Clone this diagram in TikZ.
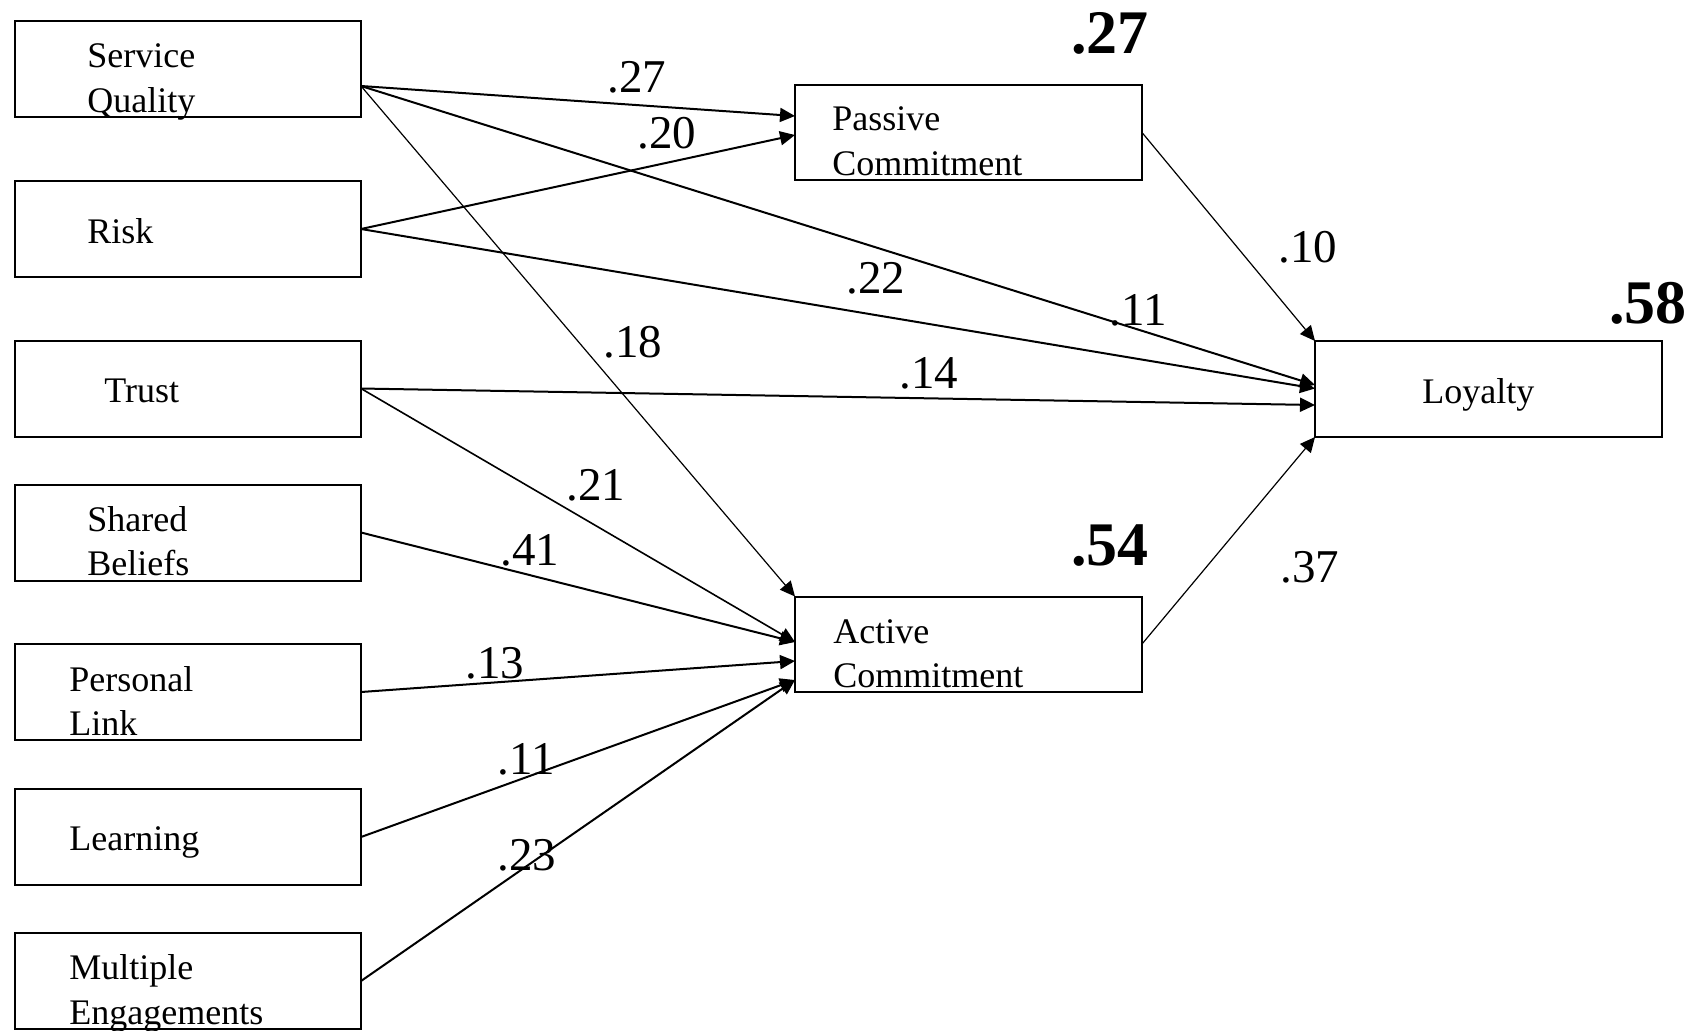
\documentclass[tikz,border=0pt]{standalone}
\usepackage{fontspec}
\setmainfont{Liberation Serif}
\usetikzlibrary{arrows.meta,calc}
\begin{document}
\begin{tikzpicture}[x=0.5pt,y=-0.5pt,
 box/.style={draw,line width=1pt,minimum width=173pt,minimum height=48pt,inner sep=0pt,outer sep=0pt},
 lbl/.style={anchor=base west,inner sep=0pt,font=\fontsize{18}{21}\selectfont},
 coef/.style={anchor=base,inner sep=0pt,font=\fontsize{23.5}{28}\selectfont},
 rsq/.style={anchor=base,inner sep=0pt,font=\bfseries\fontsize{31}{36}\selectfont},
 arr/.style={line width=1pt,-{Triangle[length=7.5pt,width=7pt]}},
 arrthin/.style={line width=0.6pt,-{Triangle[length=7.5pt,width=7pt]}}]
\useasboundingbox (0,0) rectangle (1701,1030);
% boxes
\node[box] (sq) at (188,69) {};
\node[box] (risk) at (188,229) {};
\node[box] (trust) at (188,388.5) {};
\node[box] (sb) at (188,532.5) {};
\node[box] (pl) at (188,692) {};
\node[box] (learn) at (188,837) {};
\node[box] (mult) at (188,981) {};
\node[box,minimum height=47.5pt,minimum width=173.5pt] (pc) at (968.5,132.5) {};
\node[box,minimum height=47.5pt,minimum width=173.5pt] (ac) at (968.5,644) {};
\node[box,minimum width=173.5pt] (loy) at (1488.5,389) {};
% box texts
\node[lbl] (sqa) at (87,67) {Service};
\node[lbl] (sqb) at (87,112) {Quality};
\node[lbl] (riska) at (87,243) {Risk};
\node[lbl] (trusta) at (104,402) {Trust};
\node[lbl] (sba) at (87,531) {Shared};
\node[lbl] (sbb) at (87,575) {Beliefs};
\node[lbl] (pla) at (69,691) {Personal};
\node[lbl] (plb) at (69,735) {Link};
\node[lbl] (learna) at (69,850) {Learning};
\node[lbl] (multa) at (69,979) {Multiple};
\node[lbl] (multb) at (69,1024) {Engagements};
\node[lbl] (pca) at (832,130) {Passive};
\node[lbl] (pcb) at (832,175) {Commitment};
\node[lbl] (aca) at (833,643) {Active};
\node[lbl] (acb) at (833,687) {Commitment};
\node[lbl] (loya) at (1422,403) {Loyalty};
% connectors
\coordinate (sqout) at ($(sq.east)+(0,17)$);
\draw[arr] (sqout) -- ($(pc.west)+(0,-16.5)$);
\draw[arr] (risk.east) -- ($(pc.west)+(0,2.5)$);
\draw[arr] (sqout) -- ($(loy.west)+(0,-4)$);
\draw[arr] (risk.east) -- ($(loy.west)+(0,-0.5)$);
\draw[arr] (trust.east) -- ($(loy.west)+(0,16)$);
\draw[arrthin] (sqout) -- (ac.north west);
\draw[arr,line width=0.8pt] (trust.east) -- ($(ac.west)+(0,-2)$);
\draw[arr] (sb.east) -- ($(ac.west)+(0,-2)$);
\draw[arr] (pl.east) -- ($(ac.west)+(0,17)$);
\draw[arr] (learn.east) -- ($(ac.west)+(0,36)$);
\draw[arr] (mult.east) -- ($(ac.west)+(0,36)$);
\draw[arrthin] (pc.east) -- (loy.north west);
\draw[arrthin] (ac.east) -- (loy.south west);
% coefficients
\node[coef] (c1) at (637,92) {.27};
\node[coef] (c2) at (667,148) {.20};
\node[coef] (c3) at (633,357) {.18};
\node[coef] (c4) at (876,293) {.22};
\node[coef] (c5) at (1138,325) {.11};
\node[coef] (c6) at (929,388) {.14};
\node[coef] (c7) at (1308,262) {.10};
\node[coef] (c8) at (1310,582) {.37};
\node[coef] (c9) at (596,500) {.21};
\node[coef] (c10) at (530,565) {.41};
\node[coef] (c11) at (495,678) {.13};
\node[coef] (c12) at (526,774) {.11};
\node[coef] (c13) at (527,870) {.23};
% R-squared values
\node[rsq] (r1) at (1110,53) {.27};
\node[rsq] (r2) at (1110,565) {.54};
\node[rsq] (r3) at (1648,323) {.58};
\end{tikzpicture}
\end{document}
